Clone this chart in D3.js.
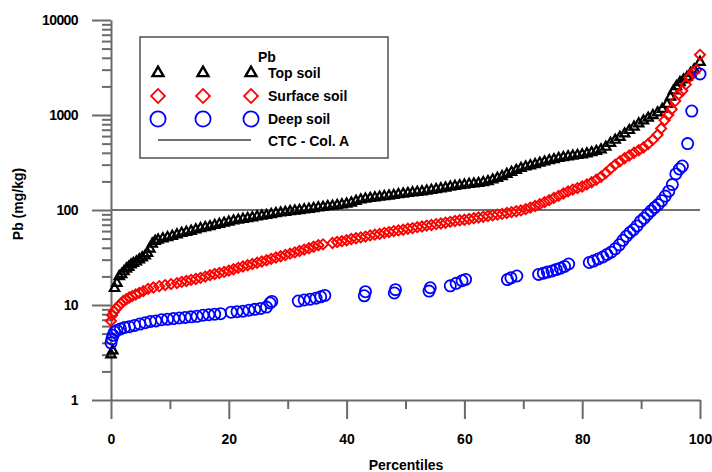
<!DOCTYPE html>
<html>
<head>
<meta charset="utf-8">
<script src="https://cdn.jsdelivr.net/npm/d3@7"></script>
<style>
  body { margin: 0; background: #fff; }
  text { font-family: "Liberation Sans", Arial, sans-serif; font-weight: bold; fill: #000; }
</style>
</head>
<body>
<svg id="chart" width="712" height="472"></svg>
<script>
// Pb concentration (mg/kg) against percentile, three soil layers
const topPct = [0, 0.3, 0.6, 1.0, 1.4, 1.8, 2.2, 2.6, 3.0, 3.4, 3.8, 4.3, 4.8, 5.3, 5.8, 6.2, 6.6, 7.0, 7.5, 8.0,
  8.8, 9.6, 10.4, 11.2, 12.0, 12.8, 13.6, 14.4, 15.2, 16.0, 16.8, 17.6, 18.4, 19.2, 20.0, 20.8, 21.6, 22.4, 23.2, 24.0,
  24.8, 25.6, 26.4, 27.2, 28.0, 28.8, 29.6, 30.4, 31.2, 32.0, 32.8, 33.6, 34.4, 35.2, 36.0, 36.8, 37.6, 38.4, 39.2, 40.0,
  40.8, 41.6, 42.4, 43.2, 44.0, 44.8, 45.6, 46.4, 47.2, 48.0, 48.8, 49.6, 50.4, 51.2, 52.0, 52.8, 53.6, 54.4, 55.2, 56.0,
  56.8, 57.6, 58.4, 59.2, 60.0, 60.8, 61.6, 62.4, 63.2, 64.0, 64.8, 65.6, 66.4, 67.2, 68.0, 68.8, 69.6, 70.4, 71.2, 72.0,
  72.8, 73.6, 74.4, 75.2, 76.0, 76.8, 77.6, 78.4, 79.2, 80.0, 80.8, 81.6, 82.4, 83.2, 84.0, 84.8, 85.6, 86.4, 87.2, 88.0,
  88.8, 89.6, 90.4, 91.2, 92.0, 92.8, 93.6, 94.4, 95.0, 95.5, 96.0, 96.6, 97.2, 97.8, 98.4, 99.0, 100];
const topVal = [3.0, 3.3, 15, 17, 20, 21, 22.5, 24, 25, 26.5, 27.5, 28.5, 30, 31.5, 33, 35, 39, 44, 47, 48.5,
  50, 51.5, 53, 55, 57, 58.5, 60, 62, 64, 65.5, 67, 69, 71, 73, 75, 77, 78.5, 80, 81.5, 83,
  85, 86.5, 88, 90, 92, 93.5, 95, 96.5, 98, 99, 101, 102, 104, 106, 107, 109, 110, 112, 114, 116,
  119, 124, 128, 131, 133, 135, 137, 139, 141, 143, 146, 148, 150, 152, 154, 156, 159, 162, 165, 168,
  171, 175, 178, 181, 184, 187, 189, 191, 195, 200, 208, 216, 226, 238, 250, 262, 275, 285, 293, 302,
  312, 322, 332, 340, 350, 358, 365, 371, 377, 383, 392, 403, 415, 432, 460, 505, 545, 585, 635, 690,
  750, 810, 870, 930, 990, 1060, 1150, 1300, 1550, 1800, 2000, 2200, 2350, 2500, 2750, 3000, 3600];

const surfPct = [0, 0.2, 0.5, 0.9, 1.3, 1.7, 2.1, 2.6, 3.1, 3.6, 4.2, 4.8, 5.5, 6.3, 7.2, 8.2, 9.2, 10.2, 11.2, 12.0,
  12.8, 13.6, 14.4, 15.2, 16.0, 16.8, 17.6, 18.4, 19.2, 20.0, 20.8, 21.6, 22.4, 23.2, 24.0, 24.8, 25.6, 26.4, 27.2, 28.0,
  28.8, 29.6, 30.4, 31.2, 32.0, 32.8, 33.6, 34.4, 35.2, 36.0, 37.6, 38.4, 39.2, 40.0, 40.8, 41.6, 42.4, 43.2, 44.0, 44.8,
  45.6, 46.4, 47.2, 48.0, 48.8, 49.6, 50.4, 51.2, 52.0, 52.8, 53.6, 54.4, 55.2, 56.0, 56.8, 57.6, 58.4, 59.2, 60.0, 60.8,
  61.6, 62.4, 63.2, 64.0, 64.8, 65.6, 66.4, 67.2, 68.0, 68.8, 69.6, 70.4, 71.2, 72.0, 72.8, 73.6, 74.4, 75.2, 76.0, 76.8,
  77.6, 78.4, 79.2, 80.0, 80.8, 81.6, 82.4, 83.2, 84.0, 84.8, 85.6, 86.4, 87.2, 88.0, 88.8, 89.6, 90.4, 91.2, 92.0, 92.8,
  93.4, 94.0, 94.6, 95.2, 95.8, 96.4, 97.0, 97.6, 98.2, 98.8, 99.4, 100];
const surfVal = [6.8, 7.8, 8.5, 9.2, 9.8, 10.4, 11, 11.5, 12, 12.4, 12.9, 13.4, 14, 14.8, 15.3, 15.8, 16.2, 16.6, 17, 17.5,
  17.9, 18.4, 18.8, 19.3, 19.9, 20.6, 21.2, 21.7, 22.3, 23, 23.8, 24.6, 25.4, 26.2, 27, 27.8, 28.7, 29.6, 30.6, 31.6,
  32.6, 33.6, 34.7, 35.8, 37, 38.3, 39.6, 41, 42.5, 43.5, 45, 46, 47, 48, 49.5, 50.5, 51.5, 52.5, 54, 55,
  56, 57.5, 58.5, 60, 61, 62, 63.5, 64.5, 66, 67, 68.5, 69.5, 71, 72, 73.5, 75, 76.5, 78, 79, 80.5,
  82, 83.5, 85, 86.5, 88, 89.5, 91, 93, 95, 97, 99, 102, 106, 110, 115, 121, 127, 134, 141, 149,
  157, 164, 170, 177, 186, 196, 208, 224, 245, 272, 300, 325, 350, 375, 400, 425, 455, 495, 550, 620,
  720, 880, 1000, 1150, 1400, 1650, 1800, 2100, 2500, 2800, 3000, 4300];

const deepPct = [0, 0.15, 0.35, 0.6, 1.0, 1.6, 2.3, 3.1, 4.0, 4.9, 5.8, 6.7, 7.6, 8.6, 9.6, 10.6, 11.6, 12.6, 13.6, 14.6,
  15.6, 16.6, 17.6, 18.6, 20.4, 21.4, 22.4, 23.4, 24.4, 25.4, 26.4, 27.0, 27.3, 31.8, 32.8, 33.8, 34.8, 35.6, 36.3, 43.0,
  43.2, 48.1, 48.3, 54.0, 54.2, 57.6, 58.6, 59.6, 60.2, 67.3, 67.9, 68.9, 72.6, 73.4, 74.1, 74.9, 75.6, 76.3, 77.0, 77.7,
  81.2, 81.9, 82.7, 83.5, 84.2, 84.9, 85.6, 86.3, 86.9, 87.5, 88.1, 88.7, 89.3, 89.9, 90.5, 91.1, 91.7, 92.3, 92.9, 93.5,
  94.1, 94.7, 95.3, 95.9, 96.5, 97.0, 97.9, 98.6, 100];
const deepVal = [4.0, 4.4, 4.8, 5.2, 5.4, 5.6, 5.8, 5.9, 6.1, 6.3, 6.5, 6.7, 6.8, 7.0, 7.1, 7.2, 7.3, 7.4, 7.5, 7.6,
  7.8, 7.9, 8.0, 8.1, 8.4, 8.5, 8.6, 8.8, 9.0, 9.2, 9.5, 10.5, 10.9, 11.0, 11.3, 11.5, 11.8, 12.2, 12.6, 12.5,
  13.8, 13.4, 14.5, 14.0, 15.2, 15.9, 16.9, 18.0, 18.6, 18.5, 19.3, 20.2, 21.0, 21.6, 22.2, 22.8, 23.6, 24.4, 25.5, 27.0,
  28.0, 29.0, 30.5, 32.0, 34.0, 36.0, 39.0, 43.0, 48.0, 53.0, 58.0, 62.0, 68.0, 76.0, 82.0, 90.0, 98.0, 106, 114, 125,
  140, 158, 185, 240, 270, 290, 500, 1100, 2700];

const seriesNames = ["Top soil", "Surface soil", "Deep soil"];
const legendTitle = "Pb";
const limitName = "CTC - Col. A";
const limitValue = 100;
const xTicks = [0, 20, 40, 60, 80, 100];
const xMinorTicks = [10, 30, 50, 70, 90];
const yTicks = [1, 10, 100, 1000, 10000];
const xTitle = "Percentiles";
const yTitle = "Pb (mg/kg)";

const svg = d3.select("#chart");
const axisColor = "#6a6a6a";

const x = d3.scaleLinear().domain([0, 100]).range([111, 700]);
const y = d3.scaleLog().domain([1, 10000]).range([400, 20]);

// minor log ticks 2..9 in every decade
const yMinorTicks = [];
for (let d = 1; d < 10000; d *= 10) for (let m = 2; m <= 9; m++) yMinorTicks.push(d * m);

// axes
const gy = svg.append("g").attr("transform", `translate(${x(0)},0)`)
  .call(d3.axisLeft(y).tickValues(yTicks).tickSize(19).tickSizeOuter(0).tickPadding(14).tickFormat(d3.format("d")));
const gyMinor = svg.append("g").attr("transform", `translate(${x(0)},0)`)
  .call(d3.axisLeft(y).tickValues(yMinorTicks).tickSize(9).tickFormat(""));
gyMinor.select(".domain").remove();

const gx = svg.append("g").attr("transform", `translate(0,${y(1)})`)
  .call(d3.axisBottom(x).tickValues(xTicks).tickSize(19).tickSizeOuter(0).tickPadding(15));
const gxMinor = svg.append("g").attr("transform", `translate(0,${y(1)})`)
  .call(d3.axisBottom(x).tickValues(xMinorTicks).tickSize(9).tickFormat(""));
gxMinor.select(".domain").remove();

[gy, gyMinor, gx, gxMinor].forEach(g => {
  g.selectAll(".domain, line").attr("stroke", axisColor).attr("stroke-width", 2);
  g.selectAll("text").attr("font-size", 14).attr("font-family", '"Liberation Sans", Arial, sans-serif')
    .attr("font-weight", "bold").attr("fill", "#000");
});
gy.selectAll("text").attr("letter-spacing", -0.6);

// axis titles
svg.append("text").attr("x", (x(0) + x(100)) / 2 + 0.5).attr("y", 470)
  .attr("text-anchor", "middle").attr("font-size", 14).text(xTitle);
svg.append("text").attr("transform", "translate(23,204) rotate(-90)")
  .attr("text-anchor", "middle").attr("font-size", 14).text(yTitle);

// guideline value
svg.append("line").attr("x1", x(0)).attr("x2", x(100))
  .attr("y1", y(limitValue)).attr("y2", y(limitValue))
  .attr("stroke", "#707070").attr("stroke-width", 2);

// markers
const triangle = d3.symbol().type(d3.symbolTriangle).size(38);
const diamond = d3.symbol().type(d3.symbolSquare).size(52);

const plot = svg.append("g");
plot.append("g").selectAll("path").data(d3.zip(topPct, topVal)).join("path")
  .attr("d", triangle)
  .attr("transform", d => `translate(${x(d[0])},${y(d[1])})`)
  .attr("fill", "none").attr("stroke", "#000").attr("stroke-width", 2.2);

plot.append("g").selectAll("path").data(d3.zip(surfPct, surfVal)).join("path")
  .attr("d", diamond)
  .attr("transform", d => `translate(${x(d[0])},${y(d[1])}) rotate(45)`)
  .attr("fill", "none").attr("stroke", "#ff0000").attr("stroke-width", 1.9);

plot.append("g").selectAll("circle").data(d3.zip(deepPct, deepVal)).join("circle")
  .attr("cx", d => x(d[0])).attr("cy", d => y(d[1])).attr("r", 5.6)
  .attr("fill", "none").attr("stroke", "#0000ff").attr("stroke-width", 1.8);

// legend
const lg = svg.append("g");
lg.append("rect").attr("x", 140).attr("y", 37).attr("width", 248).attr("height", 121)
  .attr("fill", "#fff").attr("stroke", "#505050").attr("stroke-width", 1.5);
lg.append("text").attr("x", 258).attr("y", 62).attr("font-size", 14).text(legendTitle);

const legendX = [158, 203, 251];
const legendRows = [
  { name: seriesNames[0], cy: 73, base: 78 },
  { name: seriesNames[1], cy: 96, base: 101 },
  { name: seriesNames[2], cy: 119, base: 124 }
];
const legTriangle = d3.symbol().type(d3.symbolTriangle).size(52);
const legDiamond = d3.symbol().type(d3.symbolSquare).size(96);
legendX.forEach(lx => {
  lg.append("path").attr("d", legTriangle)
    .attr("transform", `translate(${lx},${legendRows[0].cy})`)
    .attr("fill", "none").attr("stroke", "#000").attr("stroke-width", 2.4);
  lg.append("path").attr("d", legDiamond)
    .attr("transform", `translate(${lx},${legendRows[1].cy}) rotate(45)`)
    .attr("fill", "none").attr("stroke", "#ff0000").attr("stroke-width", 1.8);
  lg.append("circle").attr("cx", lx).attr("cy", legendRows[2].cy).attr("r", 7.6)
    .attr("fill", "none").attr("stroke", "#0000ff").attr("stroke-width", 1.8);
});
legendRows.forEach(r => {
  lg.append("text").attr("x", 268).attr("y", r.base).attr("font-size", 14).text(r.name);
});
lg.append("line").attr("x1", 158).attr("x2", 251).attr("y1", 140).attr("y2", 140)
  .attr("stroke", "#404040").attr("stroke-width", 1.6);
lg.append("text").attr("x", 268).attr("y", 146).attr("font-size", 14).text(limitName);
</script>
</body>
</html>
